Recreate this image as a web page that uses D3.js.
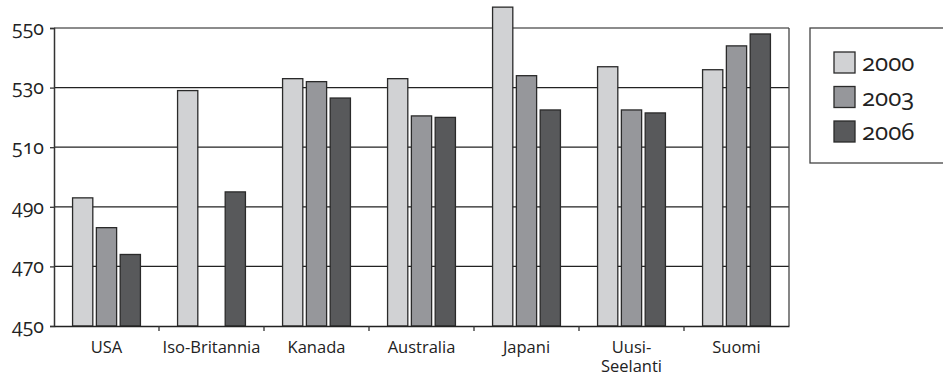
<!DOCTYPE html>
<html><head><meta charset="utf-8">
<script src="https://cdn.jsdelivr.net/npm/d3@7"></script>
<style>
body{margin:0;background:#fff;}
svg{display:block;}
.num{font-family:"Open Sans",sans-serif;font-variant-numeric:oldstyle-nums;font-feature-settings:"onum" 1;}
.cat{font-family:"Open Sans",sans-serif;}
</style></head><body>
<svg id="c" width="943" height="378"></svg>
<script>
const categories = ["USA","Iso-Britannia","Kanada","Australia","Japani","Uusi-Seelanti","Suomi"];
const years = ["2000","2003","2006"];
const v2000 = [493, 529, 533, 533, 557, 537, 536];
const v2003 = [483, null, 532, 520.5, 534, 522.5, 544];
const v2006 = [474, 495, 526.5, 520, 522.5, 521.5, 548];
const yTicks = [450, 470, 490, 510, 530, 550];
const colors = ["#d1d2d4", "#96979b", "#58595b"];

const series = [v2000, v2003, v2006];
const svg = d3.select("#c");
const L = 54, R = 789, T = 28, B = 326;

const x = d3.scaleBand().domain(categories).range([L, R]).paddingInner(0).paddingOuter(0);
const x1 = d3.scaleBand().domain(years).range([0, x.bandwidth()]).paddingInner(0.15).paddingOuter(0.78);
const y = d3.scaleLinear().domain([450, 550]).range([B, T]);

// gridlines
svg.append("g").selectAll("line").data(yTicks.filter(t => t > 450)).join("line")
  .attr("x1", L).attr("x2", R)
  .attr("y1", d => y(d)).attr("y2", d => y(d))
  .attr("stroke", d => d === 550 ? "#666" : "#222").attr("stroke-width", 1.3);
// right border
svg.append("line").attr("x1", R).attr("x2", R).attr("y1", T).attr("y2", B)
  .attr("stroke", "#444").attr("stroke-width", 1.3);

// bars
const bars = [];
categories.forEach((c, i) => years.forEach((yr, j) => {
  if (series[j][i] != null) bars.push({c, yr, v: series[j][i], j});
}));
svg.append("g").selectAll("rect").data(bars).join("rect")
  .attr("x", d => x(d.c) + x1(d.yr))
  .attr("width", x1.bandwidth())
  .attr("y", d => y(d.v))
  .attr("height", d => y(450) - y(d.v))
  .attr("fill", d => colors[d.j])
  .attr("stroke", "#2a2a2a").attr("stroke-width", 1.3);

// y axis
const yAxis = svg.append("g").attr("transform", `translate(${L},0)`)
  .call(d3.axisLeft(y).tickValues(yTicks).tickSize(4).tickPadding(6).tickFormat(d3.format("d")));
yAxis.select(".domain").attr("stroke", "#333").attr("stroke-width", 1.5);
yAxis.selectAll(".tick line").attr("stroke", "#333").attr("stroke-width", 1.3);
yAxis.selectAll("text").attr("class", "num").attr("font-size", 19.5).attr("fill", "#222");

// x axis
const xAxis = svg.append("g").attr("transform", `translate(0,${B})`)
  .call(d3.axisBottom(x).tickSize(0).tickPadding(0));
xAxis.select(".domain").attr("stroke", "#222").attr("stroke-width", 1.5);
xAxis.selectAll(".tick text").remove();
// category tick marks at band boundaries
svg.append("g").selectAll("line").data(categories.slice(1)).join("line")
  .attr("x1", d => x(d)).attr("x2", d => x(d))
  .attr("y1", B).attr("y2", B + 5)
  .attr("stroke", "#333").attr("stroke-width", 1.3);
// category labels
const lbl = svg.append("g").selectAll("text").data(categories).join("text")
  .attr("class", "cat")
  .attr("x", d => x(d) + x.bandwidth() / 2)
  .attr("y", B + 27)
  .attr("text-anchor", "middle")
  .attr("font-size", 16.5).attr("fill", "#222");
lbl.each(function(d) {
  const parts = d === "Uusi-Seelanti" ? ["Uusi-", "Seelanti"] : [d];
  const t = d3.select(this);
  parts.forEach((p, k) => t.append("tspan")
    .attr("x", x(d) + x.bandwidth() / 2).attr("dy", k === 0 ? 0 : 19).text(p));
});

// legend
const lg = svg.append("g");
lg.append("rect").attr("x", 810).attr("y", 28).attr("width", 150).attr("height", 135)
  .attr("fill", "none").attr("stroke", "#444").attr("stroke-width", 1.3);
const items = lg.selectAll("g.it").data(years).join("g")
  .attr("transform", (d, i) => `translate(834,${52 + i * 34.5})`);
items.append("rect").attr("width", 21).attr("height", 21)
  .attr("fill", (d, i) => colors[i]).attr("stroke", "#2a2a2a").attr("stroke-width", 1.3);
items.append("text").attr("class", "num").attr("x", 28).attr("y", 11).attr("dy", "0.35em")
  .attr("font-size", 24).attr("fill", "#222").text(d => d);
</script>
</body></html>
